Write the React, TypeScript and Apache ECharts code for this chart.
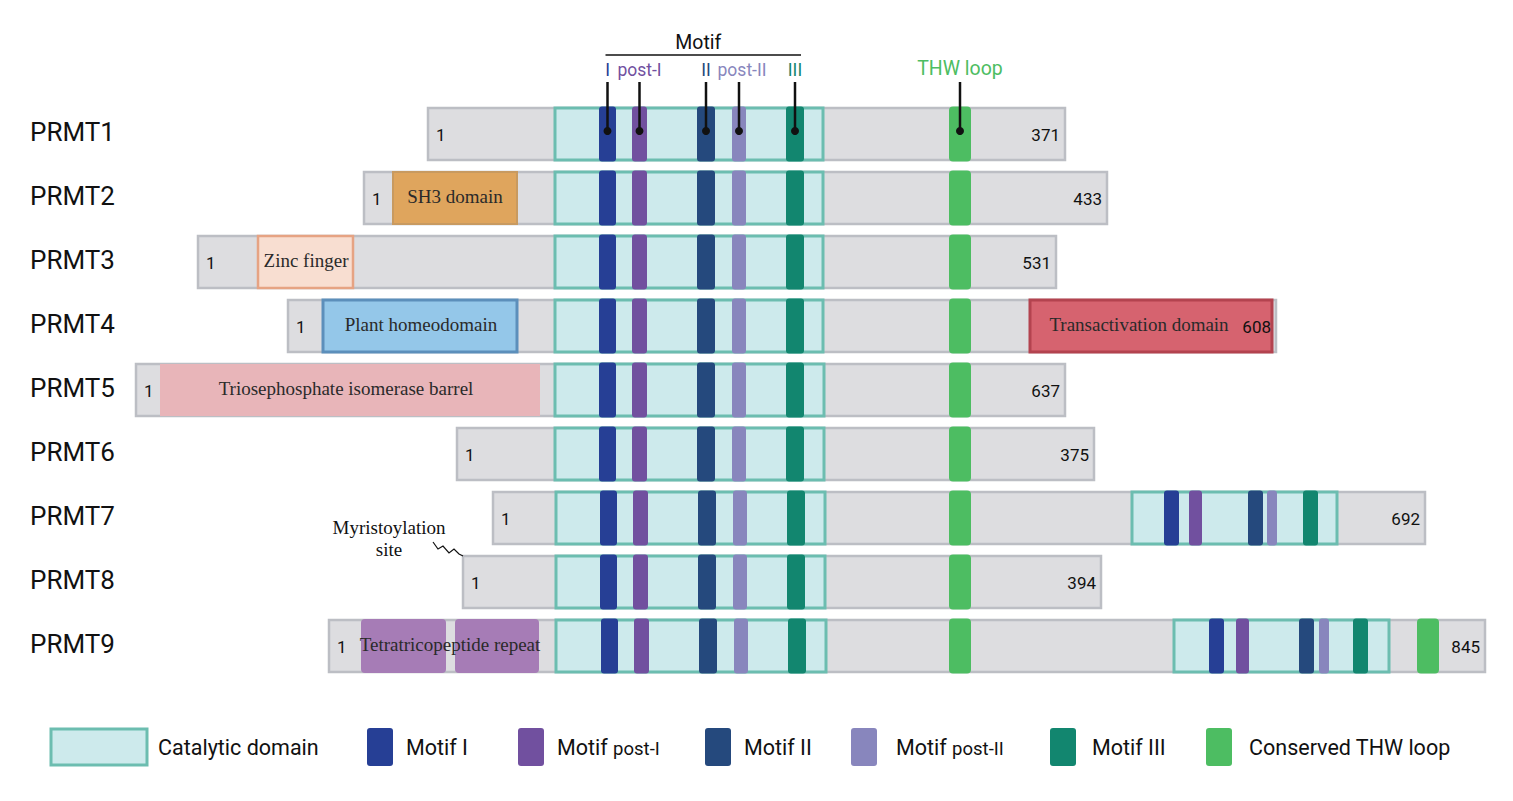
import React, { useEffect, useRef } from 'react';
import * as echarts from 'echarts';

// ---- data (schematic positions along the drawing axis) ----
const proteins = ['PRMT1', 'PRMT2', 'PRMT3', 'PRMT4', 'PRMT5', 'PRMT6', 'PRMT7', 'PRMT8', 'PRMT9'];
const lengths = [371, 433, 531, 608, 637, 375, 692, 394, 845];
const barStart = [428, 364, 198, 288, 136, 457, 493, 463, 329];
const barEnd = [1065, 1107, 1056, 1276, 1065, 1094, 1425, 1101, 1485];

const catalyticRows = [0, 1, 2, 3, 4, 5, 6, 7, 8, 6, 8];
const catalyticStart = [555, 555, 555, 555, 555, 555, 556, 556, 556, 1132, 1174];
const catalyticEnd = [823, 823, 823, 823, 824, 824, 825, 825, 826, 1337, 1389];

const motifNames = ['I', 'post-I', 'II', 'post-II', 'III'];
const motifColors = ['#263f95', '#71509f', '#25497d', '#8886bd', '#12866f'];
const mainMotifStart = [599, 632, 697, 732, 786];
const mainMotifEnd = [616, 647, 715, 746, 804];
const rowShift = [0, 0, 0, 0, 0, 0, 1, 1, 2];
const prmt7MotifStart = [1164, 1189, 1248, 1267, 1303];
const prmt7MotifEnd = [1179, 1202, 1263, 1277, 1318];
const prmt9MotifStart = [1209, 1236, 1299, 1319, 1353];
const prmt9MotifEnd = [1224, 1249, 1314, 1329, 1368];

const thwRows = [0, 1, 2, 3, 4, 5, 6, 7, 8, 8];
const thwStart = [949, 949, 949, 949, 949, 949, 949, 949, 949, 1417];
const thwEnd = [971, 971, 971, 971, 971, 971, 971, 971, 971, 1439];

const domainRows = [1, 2, 3, 3, 4, 8, 8];
const domainStart = [393, 258, 323, 1030, 160, 361, 455];
const domainEnd = [517, 353, 517, 1272, 540, 446, 539];
const domainFill = ['#dfa55d', '#f8ded1', '#94c7e9', '#d6636f', '#e8b5b9', '#a67cb6', '#a67cb6'];
const domainBorder = ['#c89a60', '#e6a383', '#5c8fbb', '#b3434f', '#e8b5b9', '#a67cb6', '#a67cb6'];
const domainBorderWidth = [2, 2.5, 3, 3, 0, 0, 0];
const domainRadius = [0, 0, 0, 0, 0, 4, 4];
const domainLabels = ['SH3 domain', 'Zinc finger', 'Plant homeodomain', 'Transactivation domain', 'Triosephosphate isomerase barrel', 'Tetratricopeptide repeat', ''];
const domainLabelX = [455, 306, 421, 1139, 346, 450, 0];

const legendLabels = ['Catalytic domain', 'Motif I', 'Motif post-I', 'Motif II', 'Motif post-II', 'Motif III', 'Conserved THW loop'];

const SANS = 'Roboto, "Noto Sans", Arial, sans-serif';
const SERIF = '"Liberation Serif", "DejaVu Serif", serif';

const BAR_H = 0.8125; // fraction of row band

function rowRect(api: any, row: number, x0: number, x1: number, hFrac: number, extra = 0) {
  const p0 = api.coord([x0, row]);
  const p1 = api.coord([x1, row]);
  const h = api.size([0, 1])[1] * hFrac + extra;
  return { x: p0[0], y: p0[1] - h / 2, width: p1[0] - p0[0], height: h };
}

export default function App() {
  const ref = useRef<HTMLDivElement>(null);
  useEffect(() => {
    if (!ref.current) return;
    const chart = echarts.init(ref.current, undefined, { renderer: 'svg' });

    const barData = proteins.map((_, i) => [i, barStart[i], barEnd[i], i]);
    const domainData = domainRows.map((r, i) => [r, domainStart[i], domainEnd[i], i]);
    const catData = catalyticRows.map((r, i) => [r, catalyticStart[i], catalyticEnd[i], i]);
    const motifData: number[][] = [];
    proteins.forEach((_, r) => {
      motifNames.forEach((_, m) => motifData.push([r, mainMotifStart[m] + rowShift[r], mainMotifEnd[m] + rowShift[r], m]));
    });
    motifNames.forEach((_, m) => motifData.push([6, prmt7MotifStart[m], prmt7MotifEnd[m], m]));
    motifNames.forEach((_, m) => motifData.push([8, prmt9MotifStart[m], prmt9MotifEnd[m], m]));
    const thwData = thwRows.map((r, i) => [r, thwStart[i], thwEnd[i], i]);
    const annData = motifNames.map((_, m) => [0, (mainMotifStart[m] + mainMotifEnd[m]) / 2, m]);
    annData.push([0, (thwStart[0] + thwEnd[0]) / 2, 5]);

    const option: any = {
      animation: false,
      grid: { left: 0, right: 0, top: 102, height: 576 },
      xAxis: { type: 'value', min: 0, max: 1513, show: false },
      yAxis: { type: 'value', min: -0.5, max: 8.5, inverse: true, show: false },
      series: [
        {
          type: 'custom', name: 'protein', clip: false, z: 1, data: barData,
          renderItem: (params: any, api: any) => {
            const i = api.value(3);
            const r = rowRect(api, api.value(0), api.value(1), api.value(2), BAR_H);
            const c = api.coord([0, api.value(0)]);
            return {
              type: 'group',
              children: [
                { type: 'rect', shape: r, style: { fill: '#dddde0', stroke: '#bcbec4', lineWidth: 2.5 } },
                { type: 'text', x: 30, y: c[1] - 2, style: { text: proteins[i], fontSize: 26, fontFamily: SANS, fill: '#111', verticalAlign: 'middle', align: 'left' } },
                { type: 'text', x: r.x + 8, y: r.y + r.height / 2 + 1, z2: 50, style: { text: '1', fontSize: 17, fontFamily: SANS, fill: '#111', verticalAlign: 'middle', align: 'left' } },
              ],
            };
          },
        },
        {
          type: 'custom', name: 'domains', clip: false, z: 2, data: domainData,
          renderItem: (params: any, api: any) => {
            const i = api.value(3);
            const bw = domainBorderWidth[i];
            const r = rowRect(api, api.value(0), api.value(1), api.value(2), BAR_H, i >= 5 ? 2 : 0);
            const children: any[] = [
              { type: 'rect', shape: { ...r, r: domainRadius[i] }, style: { fill: domainFill[i], stroke: bw ? domainBorder[i] : null, lineWidth: bw } },
            ];
            if (domainLabels[i]) {
              const lx = api.coord([domainLabelX[i], api.value(0)]);
              children.push({ type: 'text', x: lx[0], y: r.y + r.height / 2 - 2, z2: 60, style: { text: domainLabels[i], fontSize: 19, fontFamily: SERIF, fill: '#2a2a2a', align: 'center', verticalAlign: 'middle' } });
            }
            return { type: 'group', children };
          },
        },
        {
          type: 'custom', name: 'catalytic', clip: false, z: 3, data: catData,
          renderItem: (params: any, api: any) => {
            const r = rowRect(api, api.value(0), api.value(1), api.value(2), BAR_H);
            return { type: 'rect', shape: r, style: { fill: '#cdeaec', stroke: '#6cbdb0', lineWidth: 3 } };
          },
        },
        {
          type: 'custom', name: 'motifs', clip: false, z: 4, data: motifData,
          renderItem: (params: any, api: any) => {
            const m = api.value(3);
            const r = rowRect(api, api.value(0), api.value(1), api.value(2), BAR_H, 3);
            return { type: 'rect', shape: { ...r, r: 3 }, style: { fill: motifColors[m] } };
          },
        },
        {
          type: 'custom', name: 'thw', clip: false, z: 4, data: thwData,
          renderItem: (params: any, api: any) => {
            const r = rowRect(api, api.value(0), api.value(1), api.value(2), BAR_H, 3);
            return { type: 'rect', shape: { ...r, r: 4 }, style: { fill: '#4dbd62' } };
          },
        },
        {
          type: 'custom', name: 'lengths', clip: false, z: 6, data: barData,
          renderItem: (params: any, api: any) => {
            const i = api.value(3);
            const p = api.coord([api.value(2), api.value(0)]);
            return { type: 'text', x: p[0] - 5, y: p[1] + 1, style: { text: String(lengths[i]), fontSize: 17, fontFamily: SANS, fill: '#111', align: 'right', verticalAlign: 'middle' } };
          },
        },
        {
          type: 'custom', name: 'annotations', clip: false, z: 7, data: annData,
          renderItem: (params: any, api: any) => {
            const k = api.value(2);
            const p = api.coord([api.value(1), api.value(0)]);
            const isThw = k === 5;
            const color = isThw ? '#4dbd62' : motifColors[k];
            const label = isThw ? 'THW loop' : motifNames[k];
            const children: any[] = [
              { type: 'line', shape: { x1: p[0], y1: p[1] - 52, x2: p[0], y2: p[1] - 3 }, style: { stroke: '#111', lineWidth: 2.5 } },
              { type: 'circle', shape: { cx: p[0], cy: p[1] - 3, r: 4 }, style: { fill: '#111' } },
              { type: 'text', x: p[0] + (k === 3 ? 3 : 0), y: isThw ? p[1] - 66 : p[1] - 64, style: { text: label, fontSize: isThw ? 19.5 : 17.5, fontFamily: SANS, fill: color, align: 'center', verticalAlign: 'middle' } },
            ];
            if (k === 0) {
              const pEnd = api.coord([(mainMotifStart[4] + mainMotifEnd[4]) / 2, 0]);
              const xs = p[0] - 2;
              const xe = pEnd[0] + 6;
              children.push({ type: 'line', shape: { x1: xs, y1: p[1] - 79, x2: xe, y2: p[1] - 79 }, style: { stroke: '#111', lineWidth: 1.5 } });
              children.push({ type: 'text', x: (xs + xe) / 2 - 5, y: p[1] - 92, style: { text: 'Motif', fontSize: 19.5, fontFamily: SANS, fill: '#111', align: 'center', verticalAlign: 'middle' } });
            }
            return { type: 'group', children };
          },
        },
        {
          type: 'custom', name: 'myristoylation', clip: false, z: 7, data: [[7, barStart[7]]],
          renderItem: (params: any, api: any) => {
            const p = api.coord([api.value(1), api.value(0)]);
            const top = p[1] - 26;
            const zig = [[-30, -14], [-25, -7], [-20, -10], [-14, -3], [-9, -7], [-4, -2], [0, 0]].map(([dx, dy]) => [p[0] + dx, top + dy]);
            return {
              type: 'group',
              children: [
                { type: 'polyline', shape: { points: zig }, style: { stroke: '#111', lineWidth: 1.2, fill: null } },
                { type: 'text', x: p[0] - 74, y: p[1] - 55, style: { text: 'Myristoylation', fontSize: 19, fontFamily: SERIF, fill: '#111', align: 'center', verticalAlign: 'middle' } },
                { type: 'text', x: p[0] - 74, y: p[1] - 33, style: { text: 'site', fontSize: 19, fontFamily: SERIF, fill: '#111', align: 'center', verticalAlign: 'middle' } },
              ],
            };
          },
        },
      ],
      graphic: [
        { type: 'rect', shape: { x: 51, y: 729, width: 96, height: 36 }, style: { fill: '#cdeaec', stroke: '#6cbdb0', lineWidth: 3 } },
        ...[367, 518, 705, 851, 1050].map((x, m) => ({ type: 'rect', shape: { x, y: 728, width: 26, height: 38, r: 3 }, style: { fill: motifColors[m] } })),
        { type: 'rect', shape: { x: 1206, y: 728, width: 26, height: 38, r: 3 }, style: { fill: '#4dbd62' } },
        ...[158, 406, 557, 744, 896, 1092, 1249].map((x, i) => {
          const lbl = legendLabels[i];
          const isPost = lbl.indexOf('post') >= 0;
          const text = isPost ? '{a|Motif }{b|' + lbl.replace('Motif ', '') + '}' : lbl;
          return {
            type: 'text', x, y: 747,
            style: {
              text, fontSize: 21.5, fontFamily: SANS, fill: '#111', verticalAlign: 'middle', align: 'left',
              rich: { a: { fontSize: 21.5, fontFamily: SANS, fill: '#111' }, b: { fontSize: 18.5, fontFamily: SANS, fill: '#111', padding: [3, 0, 0, 0] } },
            },
          };
        }),
      ],
    };
    chart.setOption(option);
    return () => chart.dispose();
  }, []);
  return <div ref={ref} style={{ position: 'absolute', left: 0, top: 0, width: 1513, height: 801, background: '#fff' }} />;
}
